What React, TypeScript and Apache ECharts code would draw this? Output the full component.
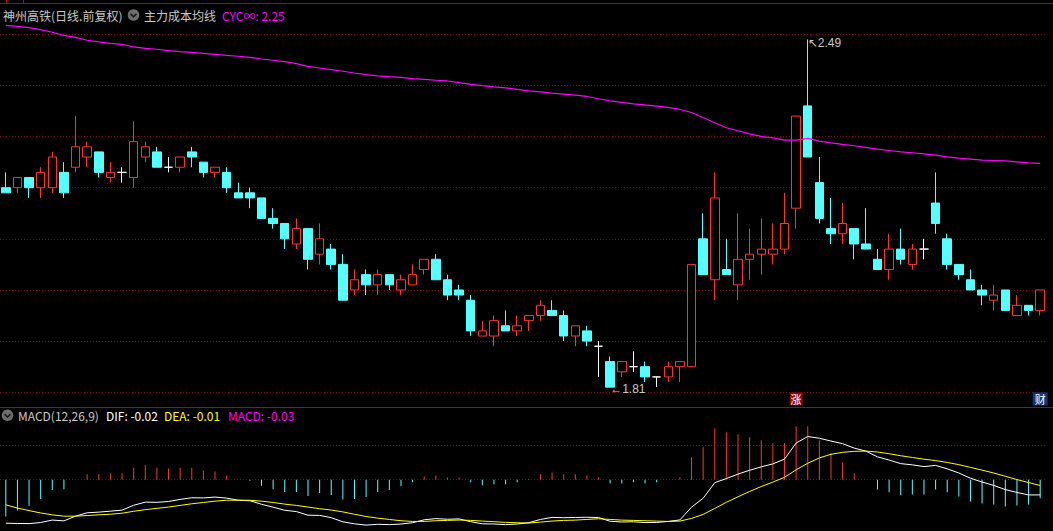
import React, { useEffect, useRef } from "react";
import * as echarts from "echarts";

// [open, close, low, high]
const ohlc: number[][] = [
  [2.20, 2.19, 2.19, 2.23], [2.20, 2.22, 2.19, 2.22], [2.22, 2.20, 2.18, 2.22], [2.20, 2.23, 2.18, 2.24],
  [2.20, 2.26, 2.19, 2.27], [2.23, 2.19, 2.18, 2.25], [2.24, 2.28, 2.23, 2.34], [2.26, 2.28, 2.24, 2.29],
  [2.27, 2.23, 2.22, 2.27], [2.22, 2.23, 2.21, 2.25], [2.23, 2.23, 2.21, 2.24], [2.22, 2.29, 2.20, 2.33],
  [2.26, 2.28, 2.25, 2.29], [2.27, 2.24, 2.24, 2.28], [2.24, 2.24, 2.23, 2.26], [2.24, 2.26, 2.23, 2.26],
  [2.27, 2.26, 2.24, 2.28], [2.25, 2.23, 2.22, 2.25], [2.23, 2.24, 2.22, 2.24], [2.23, 2.20, 2.19, 2.24],
  [2.19, 2.18, 2.18, 2.21], [2.19, 2.18, 2.16, 2.20], [2.18, 2.14, 2.14, 2.18], [2.14, 2.13, 2.12, 2.16],
  [2.13, 2.10, 2.08, 2.13], [2.09, 2.12, 2.08, 2.14], [2.12, 2.06, 2.04, 2.12], [2.07, 2.10, 2.05, 2.13],
  [2.08, 2.05, 2.04, 2.09], [2.05, 1.98, 1.98, 2.07], [2.00, 2.02, 1.99, 2.04], [2.03, 2.01, 1.99, 2.04],
  [2.01, 2.03, 1.99, 2.04], [2.03, 2.01, 2.00, 2.03], [2.00, 2.02, 1.99, 2.03], [2.01, 2.03, 2.01, 2.05],
  [2.04, 2.06, 2.03, 2.06], [2.06, 2.02, 2.02, 2.07], [2.02, 1.99, 1.98, 2.03], [2.00, 1.99, 1.98, 2.01],
  [1.98, 1.92, 1.91, 1.99], [1.91, 1.92, 1.91, 1.94], [1.91, 1.94, 1.89, 1.95], [1.93, 1.92, 1.92, 1.96],
  [1.92, 1.93, 1.91, 1.95], [1.94, 1.95, 1.92, 1.95], [1.95, 1.97, 1.94, 1.98], [1.96, 1.95, 1.95, 1.98],
  [1.95, 1.91, 1.90, 1.96], [1.91, 1.93, 1.89, 1.93], [1.92, 1.90, 1.89, 1.93], [1.89, 1.89, 1.83, 1.90],
  [1.86, 1.81, 1.81, 1.87], [1.84, 1.86, 1.83, 1.86], [1.85, 1.85, 1.84, 1.88], [1.85, 1.83, 1.82, 1.86],
  [1.83, 1.83, 1.81, 1.83], [1.83, 1.85, 1.82, 1.86], [1.85, 1.86, 1.82, 1.86], [1.85, 2.05, 1.85, 2.05],
  [2.10, 2.03, 2.03, 2.15], [2.02, 2.18, 1.98, 2.23], [2.04, 2.03, 2.03, 2.10], [2.01, 2.06, 1.98, 2.15],
  [2.06, 2.07, 2.02, 2.12], [2.07, 2.08, 2.03, 2.14], [2.07, 2.08, 2.05, 2.13], [2.08, 2.13, 2.07, 2.19],
  [2.16, 2.34, 2.12, 2.34], [2.36, 2.26, 2.26, 2.49], [2.21, 2.14, 2.13, 2.26], [2.12, 2.11, 2.09, 2.18],
  [2.11, 2.13, 2.09, 2.17], [2.12, 2.09, 2.06, 2.12], [2.09, 2.08, 2.08, 2.16], [2.06, 2.04, 2.04, 2.08],
  [2.04, 2.08, 2.02, 2.11], [2.08, 2.06, 2.05, 2.12], [2.05, 2.08, 2.04, 2.09], [2.08, 2.08, 2.06, 2.10],
  [2.17, 2.13, 2.11, 2.23], [2.10, 2.05, 2.04, 2.11], [2.05, 2.03, 2.02, 2.05], [2.02, 2.00, 2.00, 2.04],
  [2.00, 1.99, 1.97, 2.01], [1.98, 1.99, 1.96, 2.01], [2.00, 1.96, 1.96, 2.00], [1.95, 1.97, 1.95, 1.99],
  [1.97, 1.96, 1.95, 1.97], [1.96, 2.00, 1.95, 2.00],
];

// 主力成本均线 CYC∞
const cyc: number[] = [
  2.5176, 2.5156, 2.5129, 2.509, 2.5039, 2.498, 2.4941, 2.4883, 2.485, 2.4824,
  2.4804, 2.4752, 2.4726, 2.4707, 2.4679, 2.466, 2.4648, 2.4628, 2.4609, 2.4589,
  2.457, 2.455, 2.4517, 2.4492, 2.4464, 2.4425, 2.4374, 2.4341, 2.4308, 2.4277,
  2.4243, 2.421, 2.4185, 2.4171, 2.4159, 2.4132, 2.412, 2.4101, 2.4087, 2.4054,
  2.4022, 2.3995, 2.397, 2.3953, 2.3921, 2.3895, 2.3875, 2.3849, 2.383, 2.381,
  2.3784, 2.3739, 2.3699, 2.3667, 2.3641, 2.3621, 2.3595, 2.3569, 2.353, 2.3471,
  2.3374, 2.3269, 2.3172, 2.3113, 2.3054, 2.3002, 2.2976, 2.293, 2.293, 2.2963,
  2.2911, 2.2878, 2.2846, 2.282, 2.2787, 2.2754, 2.2728, 2.2702, 2.2683, 2.2663,
  2.2637, 2.2604, 2.2579, 2.2559, 2.2538, 2.2532, 2.2525, 2.2506, 2.2487, 2.2474,
];

const dif: number[] = [
  -0.0636, -0.0640, -0.0642, -0.0626, -0.0590, -0.0602, -0.0533, -0.0484, -0.0474, -0.0460,
  -0.0445, -0.0374, -0.0328, -0.0331, -0.0319, -0.0288, -0.0264, -0.0266, -0.0254, -0.0269,
  -0.0300, -0.0307, -0.0359, -0.0402, -0.0447, -0.0466, -0.0519, -0.0522, -0.0555, -0.0616,
  -0.0645, -0.0664, -0.0652, -0.0657, -0.0648, -0.0629, -0.0586, -0.0569, -0.0578, -0.0573,
  -0.0614, -0.0645, -0.0647, -0.0657, -0.0648, -0.0629, -0.0581, -0.0551, -0.0556, -0.0552,
  -0.0549, -0.0554, -0.0608, -0.0618, -0.0615, -0.0627, -0.0625, -0.0610, -0.0588, -0.0402,
  -0.0271, -0.0044, 0.0017, 0.0082, 0.0138, 0.0188, 0.0231, 0.0301, 0.0536, 0.0631,
  0.0606, 0.0565, 0.0527, 0.0462, 0.0418, 0.0334, 0.0287, 0.0235, 0.0217, 0.0192,
  0.0209, 0.0159, 0.0098, 0.0021, -0.0034, -0.0083, -0.0145, -0.0186, -0.0223, -0.0222,
];

const dea: number[] = [
  -0.0367, -0.0414, -0.0452, -0.0486, -0.0514, -0.0533, -0.0533, -0.0524, -0.0514, -0.0505,
  -0.0490, -0.0462, -0.0438, -0.0419, -0.0400, -0.0376, -0.0352, -0.0333, -0.0314, -0.0300,
  -0.0300, -0.0300, -0.0314, -0.0333, -0.0357, -0.0376, -0.0400, -0.0424, -0.0443, -0.0471,
  -0.0505, -0.0538, -0.0562, -0.0581, -0.0600, -0.0610, -0.0610, -0.0600, -0.0595, -0.0590,
  -0.0595, -0.0605, -0.0614, -0.0624, -0.0629, -0.0634, -0.0620, -0.0605, -0.0595, -0.0591,
  -0.0581, -0.0571, -0.0581, -0.0591, -0.0595, -0.0600, -0.0605, -0.0610, -0.0605, -0.0566,
  -0.0508, -0.0420, -0.0330, -0.0250, -0.0172, -0.0100, -0.0035, 0.0035, 0.0145, 0.0240,
  0.0318, 0.0372, 0.0400, 0.0415, 0.0418, 0.0405, 0.0380, 0.0350, 0.0325, 0.0300,
  0.0280, 0.0252, 0.0220, 0.0180, 0.0140, 0.0098, 0.0050, 0.0002, -0.0042, -0.0085,
];

const macd: number[] = [
  -0.0538, -0.0452, -0.0381, -0.0281, -0.0152, -0.0138, 0.0, 0.0081, 0.0081, 0.0090,
  0.0090, 0.0176, 0.0219, 0.0176, 0.0162, 0.0176, 0.0176, 0.0133, 0.0119, 0.0062,
  0.0, -0.0014, -0.0090, -0.0138, -0.0181, -0.0181, -0.0238, -0.0195, -0.0224, -0.0290,
  -0.0281, -0.0252, -0.0181, -0.0152, -0.0095, -0.0038, 0.0048, 0.0062, 0.0033, 0.0033,
  -0.0038, -0.0081, -0.0067, -0.0067, -0.0038, 0.0010, 0.0078, 0.0107, 0.0078, 0.0078,
  0.0063, 0.0034, -0.0054, -0.0054, -0.0039, -0.0054, -0.0039, 0.0, 0.0034, 0.0327,
  0.0473, 0.0752, 0.0693, 0.0664, 0.0620, 0.0576, 0.0532, 0.0532, 0.0781, 0.0781,
  0.0576, 0.0386, 0.0254, 0.0093, 0.0, -0.0142, -0.0185, -0.0229, -0.0215, -0.0215,
  -0.0142, -0.0185, -0.0244, -0.0317, -0.0347, -0.0361, -0.0390, -0.0376, -0.0361, -0.0273,
];

const priceGridLevels = [1.8, 1.9, 2.0, 2.1, 2.2, 2.3, 2.4, 2.5];
const macdGridLevels = [0, 0.05];
const categories = ohlc.map((_, i) => `D${i + 1}`);
const highMark = { index: 69, value: 2.49 };
const lowMark = { index: 52, value: 1.81 };
const badgeLevel = 1.787;
const badges = [
  { index: 68, text: "涨", color: "#8e0a0a", size: [13, 13] },
  { index: 89, text: "财", color: "#0c3a78", size: [15, 13] },
];

const UP = "#ff3232";
const DOWN = "#54ffff";
const GRID_DOT = "#8c0000";
const FRAME = "#c00000";
const CJK = '"Noto Sans CJK SC", "Noto Sans", sans-serif';
const NUMF = '"Liberation Sans", "DejaVu Sans", sans-serif';

function buildOption(): any {
  const candleData = ohlc.map(([o, c, l, h]) => {
    const item: any = { value: [o, c, l, h] };
    if (o === c) {
      item.itemStyle = {
        color: "#fff", color0: "#fff", borderColor: "#fff", borderColor0: "#fff", borderColorDoji: "#fff",
      };
    }
    return item;
  });

  const last = (a: number[]) => a[a.length - 1];

  const legendIcon = (cx: number, cy: number) => [
    { type: "circle", shape: { cx, cy, r: 5.8 }, style: { fill: "#6e6e6e" }, silent: true },
    {
      type: "polyline",
      shape: { points: [[cx - 3, cy - 1.2], [cx, cy + 1.8], [cx + 3, cy - 1.2]] },
      style: { stroke: "#1b1b1b", lineWidth: 1.6, fill: "none" },
      silent: true,
    },
  ];
  const txt = (x: number, y: number, text: string, fill: string, font = CJK) => ({
    type: "text",
    x,
    y,
    silent: true,
    style: { text, fill, fontSize: 12, fontFamily: font, verticalAlign: "middle", align: "left" },
  });

  return {
    animation: false,
    backgroundColor: "#000",
    grid: [
      { left: 0, right: 7, top: 3.6, height: 404 },
      { left: 0, right: 7, top: 411.3, height: 122.5 },
    ],
    xAxis: [
      { type: "category", data: categories, gridIndex: 0, show: false },
      { type: "category", data: categories, gridIndex: 1, show: false },
    ],
    yAxis: [
      { type: "value", gridIndex: 0, min: 1.77, max: 2.56, show: false, splitLine: { show: false } },
      { type: "value", gridIndex: 1, min: -0.075, max: 0.1, show: false, splitLine: { show: false } },
    ],
    series: [
      {
        type: "candlestick",
        xAxisIndex: 0,
        yAxisIndex: 0,
        barWidth: 9,
        silent: true,
        z: 2,
        data: candleData,
        itemStyle: {
          color: "#000",
          color0: DOWN,
          borderColor: UP,
          borderColor0: DOWN,
          borderColorDoji: "#fff",
          borderWidth: 1,
        },
        markLine: {
          silent: true,
          z: 1,
          symbol: ["none", "none"],
          label: { show: false },
          lineStyle: { color: GRID_DOT, type: [1, 2], width: 1 },
          data: priceGridLevels.map((v) => ({ yAxis: v })),
        },
        markPoint: {
          silent: true,
          z: 6,
          data: [
            {
              coord: [highMark.index, highMark.value],
              symbol: "circle",
              symbolSize: 0,
              label: {
                show: true,
                formatter: `↖${highMark.value.toFixed(2)}`,
                position: "right",
                distance: 0,
                offset: [0, 4],
                color: "#c8c8c8",
                fontSize: 12,
                fontFamily: NUMF,
              },
            },
            {
              coord: [lowMark.index, lowMark.value],
              symbol: "circle",
              symbolSize: 0,
              label: {
                show: true,
                formatter: `←${lowMark.value.toFixed(2)}`,
                position: "right",
                distance: 0,
                offset: [0, 2],
                color: "#c8c8c8",
                fontSize: 12,
                fontFamily: NUMF,
              },
            },
            ...badges.map((b) => ({
              coord: [b.index, badgeLevel],
              symbol: "rect",
              symbolSize: b.size,
              itemStyle: { color: b.color },
              label: {
                show: true,
                formatter: b.text,
                position: "inside",
                color: "#fff",
                fontSize: 11,
                fontFamily: CJK,
              },
            })),
          ],
        },
      },
      {
        type: "line",
        xAxisIndex: 0,
        yAxisIndex: 0,
        data: cyc,
        symbol: "none",
        silent: true,
        z: 4,
        lineStyle: { color: "#ff00ff", width: 1.2 },
      },
      {
        type: "bar",
        xAxisIndex: 1,
        yAxisIndex: 1,
        data: macd,
        barWidth: 1,
        silent: true,
        z: 2,
        itemStyle: { color: (p: any) => (p.value >= 0 ? UP : DOWN) },
        markLine: {
          silent: true,
          z: 1,
          symbol: ["none", "none"],
          label: { show: false },
          lineStyle: { color: GRID_DOT, type: [1, 2], width: 1 },
          data: macdGridLevels.map((v) => ({ yAxis: v })),
        },
      },
      {
        type: "line",
        xAxisIndex: 1,
        yAxisIndex: 1,
        data: dif,
        symbol: "none",
        silent: true,
        z: 3,
        lineStyle: { color: "#ffffff", width: 1 },
      },
      {
        type: "line",
        xAxisIndex: 1,
        yAxisIndex: 1,
        data: dea,
        symbol: "none",
        silent: true,
        z: 3,
        lineStyle: { color: "#ffff00", width: 1 },
      },
    ],
    graphic: [
      { type: "line", silent: true, shape: { x1: 0, y1: 3.5, x2: 1053, y2: 3.5 }, style: { stroke: FRAME, lineWidth: 1 } },
      { type: "line", silent: true, shape: { x1: 6.5, y1: 0, x2: 6.5, y2: 3.5 }, style: { stroke: FRAME, lineWidth: 1 } },
      { type: "line", silent: true, shape: { x1: 23.5, y1: 0, x2: 23.5, y2: 3.5 }, style: { stroke: FRAME, lineWidth: 1 } },
      { type: "line", silent: true, shape: { x1: 0, y1: 407.5, x2: 1053, y2: 407.5 }, style: { stroke: FRAME, lineWidth: 1 } },
      txt(3, 15, "神州高铁(日线.前复权)", "#c8c8c8"),
      ...legendIcon(133.5, 15),
      txt(144, 15, "主力成本均线", "#c8c8c8"),
      txt(222, 15, `CYC∞: ${last(cyc).toFixed(2)}`, "#ff00ff"),
      ...legendIcon(7.5, 415.3),
      txt(18, 415.5, "MACD(12,26,9)", "#c8c8c8"),
      txt(106, 415.5, `DIF: ${last(dif).toFixed(2)}`, "#ffffff"),
      txt(164, 415.5, `DEA: ${last(dea).toFixed(2)}`, "#ffff00"),
      txt(228, 415.5, `MACD: ${last(macd).toFixed(2)}`, "#ff00ff"),
    ],
  };
}

export default function App() {
  const ref = useRef<HTMLDivElement>(null);
  useEffect(() => {
    if (!ref.current) return;
    const chart = echarts.init(ref.current, undefined, { renderer: "svg" });
    chart.setOption(buildOption());
    return () => {
      chart.dispose();
    };
  }, []);
  return (
    <div
      ref={ref}
      style={{ position: "absolute", left: 0, top: 0, width: 1053, height: 531, background: "#000" }}
    />
  );
}
